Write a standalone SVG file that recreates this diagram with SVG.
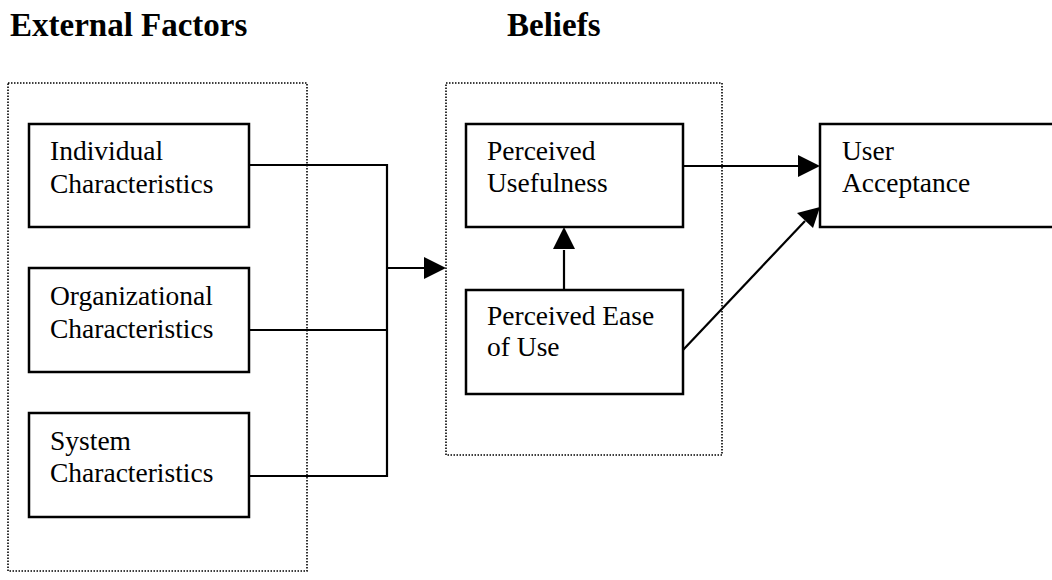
<svg xmlns="http://www.w3.org/2000/svg" width="1052" height="580" viewBox="0 0 1052 580">
<style>
.title{font-family:"Liberation Serif",serif;font-weight:bold;font-size:33px;fill:#000}
.lbl{font-family:"Liberation Serif",serif;font-size:27.5px;fill:#000}
.box{fill:#fff;stroke:#000;stroke-width:2.5}
.group{fill:none;stroke:#000;stroke-width:1.6;stroke-dasharray:1.5 1.5}
.conn{fill:none;stroke:#000;stroke-width:2.2}
</style>
<rect width="1052" height="580" fill="#fff"/>
<text class="title" x="10" y="36">External Factors</text>
<text class="title" x="507" y="36">Beliefs</text>
<rect class="group" x="8" y="83" width="299" height="488"/>
<rect class="group" x="446" y="83" width="276" height="372"/>
<g id="connectors">
<polyline class="conn" points="249,165 387,165 387,476 249,476"/>
<line class="conn" x1="249" y1="330" x2="387" y2="330"/>
<line class="conn" x1="387" y1="268" x2="426" y2="268"/>
<path d="M424,257 L446,268 L424,279 Z" fill="#000"/>
<line class="conn" x1="564" y1="290" x2="564" y2="250"/>
<path d="M553,249 L564,227 L575,249 Z" fill="#000"/>
<line class="conn" x1="683" y1="166" x2="800" y2="166"/>
<path d="M798,155 L820,166 L798,177 Z" fill="#000"/>
<line class="conn" x1="683" y1="350" x2="805" y2="221"/>
<path d="M797,213 L820,207 L813,228 Z" fill="#000"/>
</g>
<g id="individual">
<rect class="box" x="29" y="124" width="220" height="103"/>
<text class="lbl" x="50" y="160">Individual</text>
<text class="lbl" x="50" y="193">Characteristics</text>
</g>
<g id="organizational">
<rect class="box" x="29" y="268" width="220" height="104"/>
<text class="lbl" x="50" y="305">Organizational</text>
<text class="lbl" x="50" y="338">Characteristics</text>
</g>
<g id="system">
<rect class="box" x="29" y="413" width="220" height="104"/>
<text class="lbl" x="50" y="450">System</text>
<text class="lbl" x="50" y="482">Characteristics</text>
</g>
<g id="usefulness">
<rect class="box" x="466" y="124" width="217" height="103"/>
<text class="lbl" x="487" y="160">Perceived</text>
<text class="lbl" x="487" y="192">Usefulness</text>
</g>
<g id="ease">
<rect class="box" x="466" y="290" width="217" height="104"/>
<text class="lbl" x="487" y="325">Perceived Ease</text>
<text class="lbl" x="487" y="356">of Use</text>
</g>
<g id="acceptance">
<rect class="box" x="820" y="124" width="240" height="103"/>
<text class="lbl" x="842" y="160">User</text>
<text class="lbl" x="842" y="192">Acceptance</text>
</g>
</svg>
